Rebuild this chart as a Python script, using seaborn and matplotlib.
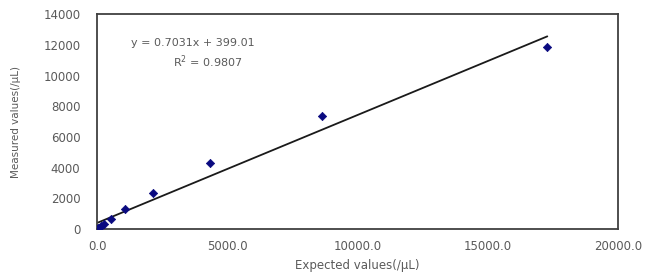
import numpy as np
import pandas as pd
import seaborn as sns
import matplotlib.pyplot as plt
from matplotlib.ticker import FormatStrFormatter

sns.set_style('white')
plt.rcParams['font.family'] = ['DejaVu Sans']

# values
expected = [17280, 8640, 4320, 2160, 1080, 540, 270, 135, 67.5, 33.75]
measured = [11860, 7350, 4280, 2320, 1300, 630, 330, 200, 100, 50]
slope = 0.7031
intercept = 399.01
r2 = 0.9807

df = pd.DataFrame({'Expected': expected, 'Measured': measured})

grey = '#5a5a5a'
fig = plt.figure(figsize=(6.49, 2.76), dpi=100)
ax = fig.add_axes([0.1495, 0.170, 0.803, 0.779])

# trend line over the data range
xs = np.array([min(expected), max(expected)])
fit = pd.DataFrame({'x': xs, 'y': slope * xs + intercept})
sns.lineplot(data=fit, x='x', y='y', ax=ax, color='#1a1a1a', linewidth=1.3)

sns.scatterplot(data=df, x='Expected', y='Measured', ax=ax, marker='D',
                color='#0a0a80', s=18, edgecolor='#0a0a80', linewidth=0.5, zorder=3)

ax.set_xlim(0, 20000)
ax.set_ylim(0, 14000)
ax.set_xticks(np.arange(0, 20001, 5000))
ax.set_yticks(np.arange(0, 14001, 2000))
ax.xaxis.set_major_formatter(FormatStrFormatter('%.1f'))
ax.tick_params(direction='in', length=3, width=1, color='#404040',
               labelcolor=grey, labelsize=8.5)
ax.tick_params(axis='x', pad=8)
ax.tick_params(axis='y', pad=12)

for sp in ax.spines.values():
    sp.set_color('#404040')
    sp.set_linewidth(1.3)

ax.set_xlabel('Expected values(/μL)', color=grey, fontsize=8.5, labelpad=4)
ax.set_ylabel('Measured values(/μL)', color=grey, fontsize=7.5, labelpad=16)

ax.text(0.184, 0.865, f'y = {slope}x + {intercept}', transform=ax.transAxes,
        ha='center', va='center', color=grey, fontsize=8)
ax.text(0.212, 0.777, f'R$^2$ = {r2}', transform=ax.transAxes,
        ha='center', va='center', color=grey, fontsize=8)

fig.savefig('out.png', dpi=100)
